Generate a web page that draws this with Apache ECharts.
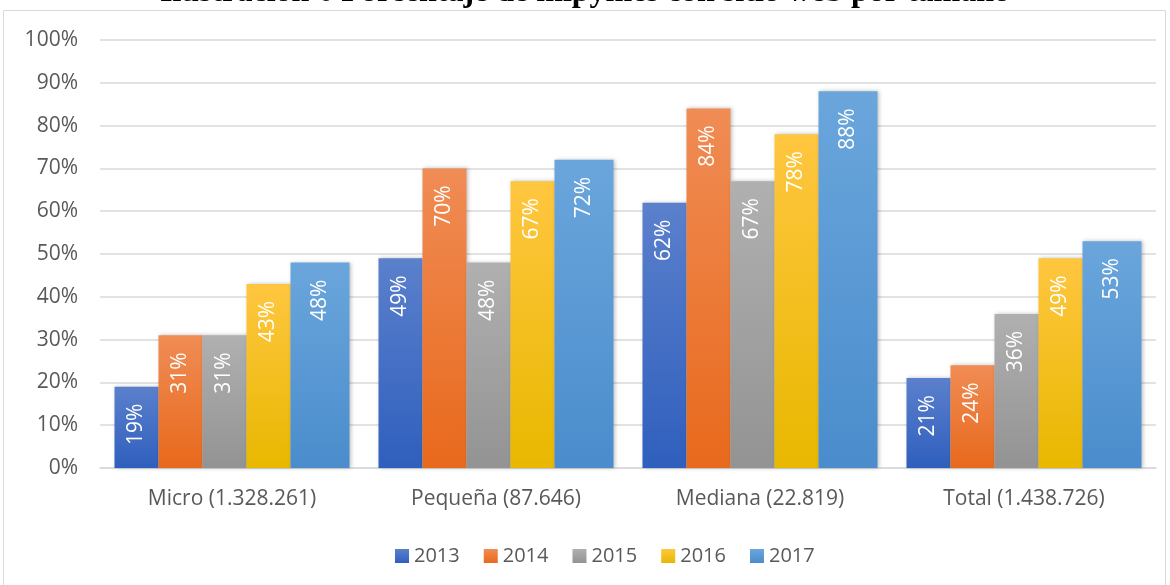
<!DOCTYPE html>
<html>
<head>
<meta charset="utf-8">
<script src="https://cdn.jsdelivr.net/npm/echarts@6/dist/echarts.min.js"></script>
<style>
  html, body { margin: 0; padding: 0; background: #fff; }
  #chart { width: 1170px; height: 585px; }
</style>
</head>
<body>
<div id="chart"></div>
<script>
var categories = ['Micro (1.328.261)', 'Pequeña (87.646)', 'Mediana (22.819)', 'Total (1.438.726)'];
var years = ['2013', '2014', '2015', '2016', '2017'];
var v2013 = [19, 49, 62, 21];
var v2014 = [31, 70, 84, 24];
var v2015 = [31, 48, 67, 36];
var v2016 = [43, 67, 78, 49];
var v2017 = [48, 72, 88, 53];
var yTicks = [0, 10, 20, 30, 40, 50, 60, 70, 80, 90, 100];

var values = [v2013, v2014, v2015, v2016, v2017];
// top / bottom colours of the gradient for each year
var colors = [
    ['#5b80cc', '#2f5fbd'],
    ['#f08c55', '#e8691c'],
    ['#b0b0b0', '#939393'],
    ['#ffc640', '#e8b800'],
    ['#6aa6dc', '#4a8ccc']
];
// the last series is drawn wider in the original
var barWidths = [44, 44, 44, 44, 59];

var myChart = echarts.init(document.getElementById('chart'));

var series = years.map(function (y, i) {
    return {
        name: y,
        type: 'bar',
        barGap: 0,
        barWidth: barWidths[i],
        data: values[i],
        itemStyle: {
            color: new echarts.graphic.LinearGradient(0, 0, 0, 1, [
                {offset: 0, color: colors[i][0]},
                {offset: 1, color: colors[i][1]}
            ]),
            shadowColor: 'rgba(0,0,0,0.25)',
            shadowBlur: 4,
            shadowOffsetX: 1
        },
        label: {
            show: true,
            position: 'insideTop',
            rotate: 90,
            align: 'right',
            verticalAlign: 'middle',
            distance: 17,
            color: '#fff',
            fontSize: 21,
            fontFamily: 'Open Sans',
            formatter: '{c}%'
        }
    };
});

var option = {
    animation: false,
    color: colors.map(function (c) { return c[1]; }),
    title: {
        text: 'Ilustración 6 Porcentaje de mipymes con sitio web por tamaño',
        left: 'center',
        top: -23,
        padding: 0,
        textStyle: {
            fontFamily: 'Liberation Serif',
            fontWeight: 'bold',
            fontSize: 32,
            color: '#000'
        }
    },
    graphic: [{
        type: 'rect',
        z: 100,
        shape: {x: 3.5, y: 10.5, width: 1162, height: 580},
        style: {fill: 'none', stroke: '#d9d9d9', lineWidth: 1}
    }],
    legend: {
        data: years,
        top: 541,
        left: 390,
        itemWidth: 14,
        itemHeight: 14,
        itemGap: 24,
        icon: 'rect',
        textStyle: {fontSize: 20, color: '#595959', fontFamily: 'Open Sans'}
    },
    grid: {
        left: 100,
        right: 14,
        top: 40,
        bottom: 117
    },
    xAxis: {
        type: 'category',
        data: categories,
        axisTick: {show: false},
        axisLine: {lineStyle: {color: '#d9d9d9', width: 1.5}},
        axisLabel: {color: '#595959', fontSize: 21, margin: 21, fontFamily: 'Open Sans'}
    },
    yAxis: {
        type: 'value',
        min: yTicks[0],
        max: yTicks[yTicks.length - 1],
        interval: 10,
        axisLine: {show: false},
        axisTick: {show: false},
        splitLine: {lineStyle: {color: '#d9d9d9', width: 1.5}},
        axisLabel: {color: '#595959', fontSize: 21, margin: 22, fontFamily: 'Open Sans', formatter: '{value}%'}
    },
    series: series
};

myChart.setOption(option);

window.addEventListener('resize', function () {
    myChart.resize();
});
</script>
</body>
</html>
